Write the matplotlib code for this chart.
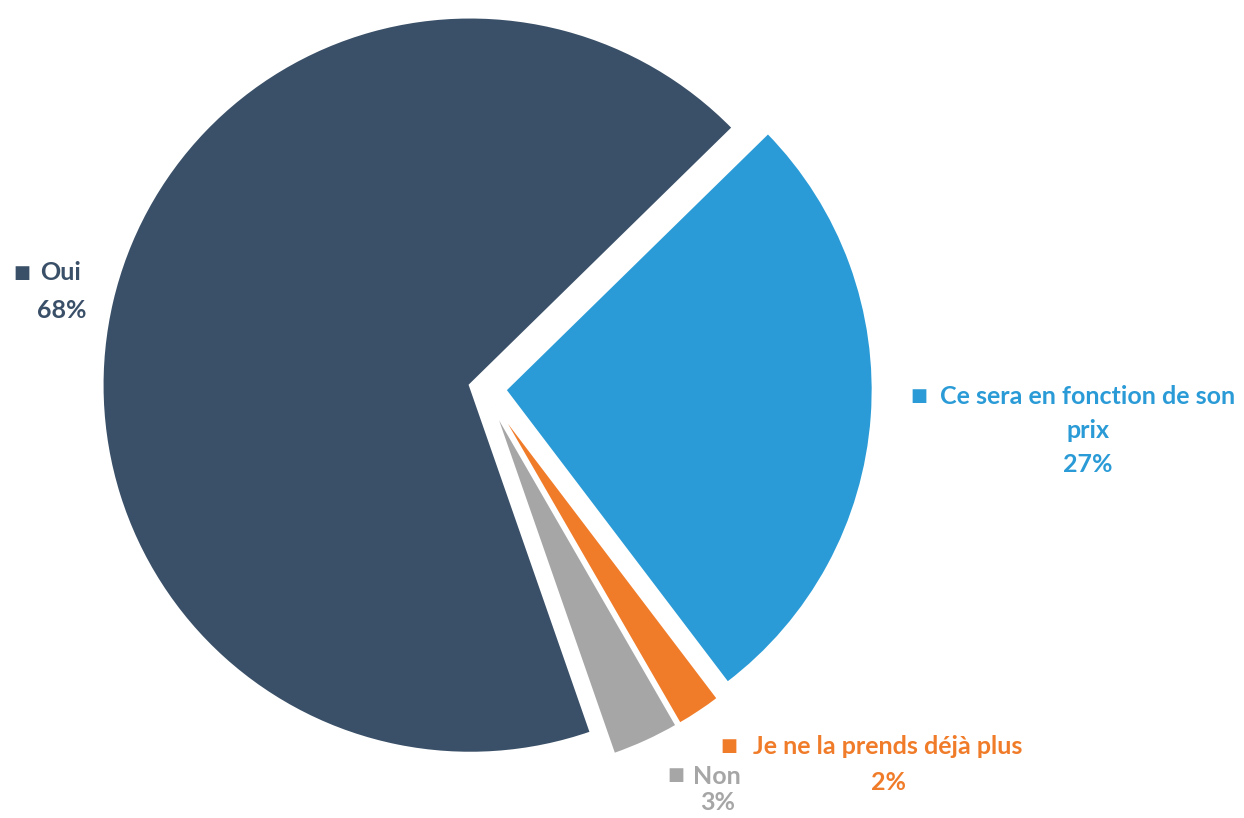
import matplotlib.pyplot as plt

plt.rcParams["font.family"] = ["Lato", "DejaVu Sans"]

# pie data, counterclockwise from the Oui/Ce sera boundary
labels = ["Oui", "Non", "Je ne la prends déjà plus", "Ce sera en fonction de son\nprix"]
shares = [68, 3, 2, 27]
colors = ["#3A5068", "#A6A6A6", "#F07C2A", "#2A9BD6"]
explode_frac = [0.04, 0.055, 0.055, 0.056]

W, H = 1244, 818
R = 368
fig = plt.figure(figsize=(W / 100, H / 100), dpi=100)
ax = fig.add_axes([0, 0, 1, 1])

# pie drawn in pixel coords (y flipped => counterclock=False looks counterclockwise)
# explode is absolute in matplotlib, so scale by radius
ax.pie(shares, colors=colors, explode=[e * R for e in explode_frac], startangle=-44.4,
       counterclock=False, radius=R, center=(484.5, 388.5), frame=True,
       wedgeprops=dict(edgecolor="white", linewidth=2))
ax.set_xlim(0, W)
ax.set_ylim(H, 0)
ax.set_aspect("equal")
ax.axis("off")

fs = 18
ax.text(13, 273, "■", color=colors[0], fontsize=13, ha="left", va="center")
ax.text(40, 273, "Oui", color=colors[0], fontsize=fs, fontweight="bold", ha="left", va="center")
ax.text(62, 310, "68%", color=colors[0], fontsize=fs, fontweight="bold", ha="center", va="center")

ax.text(910, 396, "■", color=colors[3], fontsize=13, ha="left", va="center")
ax.text(1088, 396, "Ce sera en fonction de son", color=colors[3], fontsize=fs,
        fontweight="bold", ha="center", va="center")
ax.text(1088, 430, "prix", color=colors[3], fontsize=fs, fontweight="bold", ha="center", va="center")
ax.text(1088, 465, "27%", color=colors[3], fontsize=fs, fontweight="bold", ha="center", va="center")

ax.text(720, 746, "■", color=colors[2], fontsize=13, ha="left", va="center")
ax.text(888, 746, "Je ne la prends déjà plus", color=colors[2], fontsize=fs,
        fontweight="bold", ha="center", va="center")
ax.text(888, 782, "2%", color=colors[2], fontsize=fs, fontweight="bold", ha="center", va="center")

ax.text(667, 775, "■", color=colors[1], fontsize=13, ha="left", va="center")
ax.text(693, 777, "Non", color=colors[1], fontsize=fs, fontweight="bold", ha="left", va="center")
ax.text(718, 802, "3%", color=colors[1], fontsize=fs, fontweight="bold", ha="center", va="center")

fig.savefig("out.png", dpi=100)
